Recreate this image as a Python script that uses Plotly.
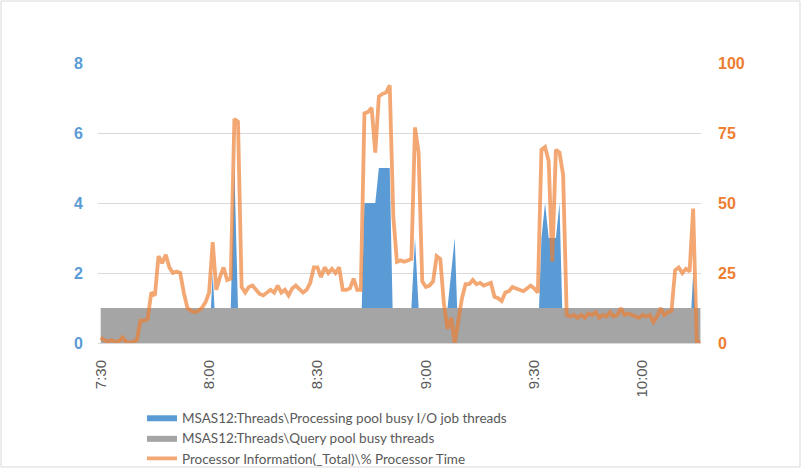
import plotly.graph_objects as go
import pandas as pd

# one sample per minute, starting 7:30
cpu = [
    2, 1, 0.5, 1, 0.5, 0.5, 2, 0.5, 0, 0.5,
    1, 8, 8, 8.5, 18, 17, 31, 28.5, 31.5, 27,
    25, 25.5, 25, 18, 12.5, 11.5, 11, 11.5, 12.5, 14.5,
    18, 36, 19, 23.5, 27, 22.5, 23, 80, 79, 20,
    18, 20, 20.5, 19, 17.5, 17, 18, 19, 18, 20.5,
    18, 19, 17, 19.5, 20.5, 19, 18, 19, 21.5, 27,
    27, 23.5, 27, 25, 26.5, 25, 27, 19, 19, 19.5,
    23, 19, 19, 82, 82.5, 84, 68, 88, 89, 89.5,
    92, 45, 29, 29.5, 29, 29.5, 30, 77, 68, 22,
    20, 20.5, 22, 31, 30, 14, 5, 9, 0, 8,
    16, 21, 21, 22.5, 21, 21.5, 20.5, 21, 21.5, 16.5,
    16, 15, 18, 18.5, 20, 19.5, 19, 18.5, 19.5, 20.5,
    19.5, 18, 69, 70, 65, 29, 69, 68, 60, 10,
    9.5, 10, 9, 10, 9, 10.5, 10, 11, 9, 10,
    9.5, 11, 9.5, 10, 12.5, 10, 10.5, 10, 9.5, 9,
    10, 9.5, 10, 7.5, 9.5, 12.5, 10, 11, 11.5, 26,
    27, 25, 26.5, 25.5, 48, 0, 0.5,
]

io_threads = [
    0, 0, 0, 0, 0, 0, 0, 0, 0, 0,
    0, 0, 0, 0, 0, 0, 0, 0, 0, 0,
    0, 0, 0, 0, 0, 0, 0, 0, 0, 0,
    0, 2, 0, 0, 0, 0, 1, 5, 1, 0,
    0, 0, 0, 0, 0, 0, 0, 0, 0, 0,
    0, 0, 0, 0, 0, 0, 0, 0, 0, 0,
    0, 0, 0, 0, 0, 0, 0, 0, 0, 0,
    0, 0, 0, 4, 4, 4, 4, 5, 5, 5,
    5, 0, 0, 0, 0, 0, 1, 3, 1, 0,
    0, 0, 0, 0, 0, 0, 1, 2, 3, 0,
    0, 0, 0, 0, 0, 0, 0, 0, 0, 0,
    0, 0, 0, 0, 0, 0, 0, 0, 0, 0,
    0, 0, 3, 4, 3, 3, 3, 4, 0, 0,
    0, 0, 0, 0, 0, 0, 0, 0, 0, 0,
    0, 0, 0, 0, 0, 0, 0, 0, 0, 0,
    0, 0, 0, 0, 0, 0, 0, 0, 0, 0,
    0, 0, 0, 0, 2, 0, 0,
]

query_threads = [
    1, 1, 1, 1, 1, 1, 1, 1, 1, 1,
    1, 1, 1, 1, 1, 1, 1, 1, 1, 1,
    1, 1, 1, 1, 1, 1, 1, 1, 1, 1,
    1, 1, 1, 1, 1, 1, 1, 1, 1, 1,
    1, 1, 1, 1, 1, 1, 1, 1, 1, 1,
    1, 1, 1, 1, 1, 1, 1, 1, 1, 1,
    1, 1, 1, 1, 1, 1, 1, 1, 1, 1,
    1, 1, 1, 1, 1, 1, 1, 1, 1, 1,
    1, 1, 1, 1, 1, 1, 1, 1, 1, 1,
    1, 1, 1, 1, 1, 1, 1, 1, 1, 1,
    1, 1, 1, 1, 1, 1, 1, 1, 1, 1,
    1, 1, 1, 1, 1, 1, 1, 1, 1, 1,
    1, 1, 1, 1, 1, 1, 1, 1, 1, 1,
    1, 1, 1, 1, 1, 1, 1, 1, 1, 1,
    1, 1, 1, 1, 1, 1, 1, 1, 1, 1,
    1, 1, 1, 1, 1, 1, 1, 1, 1, 1,
    1, 1, 1, 1, 1, 1, 1,
]

times = pd.date_range("2016-01-01 07:30", periods=len(cpu), freq="min")

names = [
    "MSAS12:Threads\\Processing pool busy I/O job threads",
    "MSAS12:Threads\\Query pool busy threads",
    "Processor Information(_Total)\\% Processor Time",
]

fig = go.Figure()
fig.add_trace(go.Scatter(x=times, y=io_threads, name=names[0], mode="lines",
                         fill="tozeroy", fillcolor="#5B9BD5",
                         line=dict(width=0, color="#5B9BD5")))
fig.add_trace(go.Scatter(x=times, y=query_threads, name=names[1], mode="lines",
                         fill="tozeroy", fillcolor="#A5A5A5",
                         line=dict(width=0, color="#A5A5A5")))
fig.add_trace(go.Scatter(x=times, y=cpu, name=names[2], mode="lines", yaxis="y2",
                         line=dict(width=3.8, color="rgba(237,125,49,0.68)")))

W, H = 802, 471
ml, mr, mt, mb = 98, 101, 63, 128
pw, ph = W - ml - mr, H - mt - mb

fig.update_layout(
    width=W, height=H,
    margin=dict(l=ml, r=mr, t=mt, b=mb, autoexpand=False),
    plot_bgcolor="white", paper_bgcolor="white",
    showlegend=True,
    legend=dict(x=(142 - ml) / pw, xanchor="left", y=-(402 - (mt + ph)) / ph,
                yanchor="top", font=dict(family="Lato", size=13.5, color="#595959"),
                tracegroupgap=0, bgcolor="rgba(0,0,0,0)"),
    xaxis=dict(type="date", range=["2016-01-01 07:29:15", "2016-01-01 10:16:10"],
               tick0="2016-01-01 07:30", dtick=30 * 60 * 1000, tickformat="%-H:%M",
               tickangle=-90, showgrid=False, showline=True, linecolor="#D9D9D9",
               ticks="", ticklabelstandoff=10,
               tickfont=dict(family="Liberation Sans", size=15, color="#595959")),
    yaxis=dict(range=[0, 8], tickvals=[0, 2, 4, 6, 8], showgrid=True, gridcolor="#D9D9D9",
               zeroline=False, ticks="", ticklabelstandoff=14,
               tickfont=dict(family="Liberation Sans", size=16, color="#5B9BD5", weight="bold")),
    yaxis2=dict(range=[0, 100], tickvals=[0, 25, 50, 75, 100], overlaying="y", side="right",
                showgrid=False, zeroline=False, ticks="", ticklabelstandoff=16,
                tickfont=dict(family="Liberation Sans", size=16, color="#ED7D31", weight="bold")),
    shapes=[dict(type="rect", xref="paper", yref="paper",
                 x0=(1 - ml) / pw, x1=(800 - ml) / pw,
                 y0=-(467 - (mt + ph)) / ph, y1=(mt + ph - 1) / ph,
                 line=dict(color="#D9D9D9", width=1), layer="below")],
)

# the page body has a default 8px margin; drop it so the chart sits at the corner
fig.write_html("out.html", config={"displayModeBar": False},
               post_script="document.body.style.margin='0';")
